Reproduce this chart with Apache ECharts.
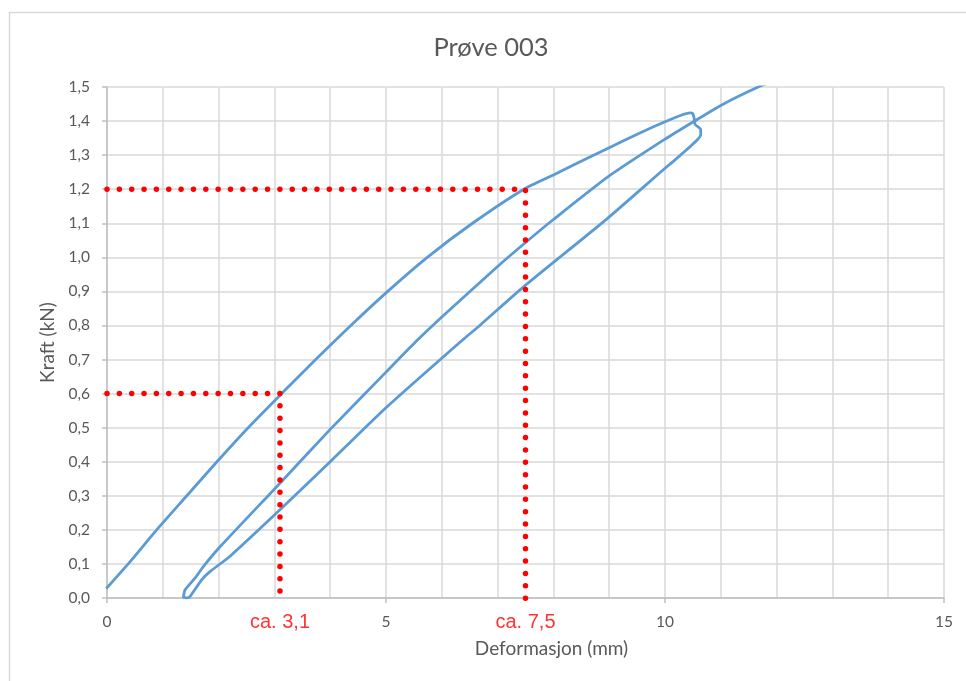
<!DOCTYPE html>
<html>
<head>
<meta charset="utf-8">
<script src="https://cdn.jsdelivr.net/npm/echarts@6/dist/echarts.min.js"></script>
<style>
html,body{margin:0;padding:0;background:#fff;}
#chart{width:966px;height:681px;}
</style>
</head>
<body>
<div id="chart"></div>
<script>
// ---- data ----
const titleText = 'Prøve 003';
const xAxisName = 'Deformasjon (mm)';
const yAxisName = 'Kraft (kN)';

// first loading branch (upper curve)
const loadingPath = [
  [0, 0.03], [0.38, 0.10], [0.89, 0.20], [1.43, 0.30], [1.97, 0.40],
  [2.53, 0.50], [3.13, 0.60], [3.74, 0.70], [4.37, 0.80], [5.03, 0.90], [5.74, 1.00],
  [6.55, 1.10], [7.47, 1.20], [8.00, 1.242], [8.70, 1.298], [9.00, 1.322], [9.55, 1.365],
  [10.00, 1.398], [10.45, 1.424], [10.49, 1.423]
];
// small drop / hook at the peak
const hookPath = [
  [10.52, 1.41], [10.54, 1.39], [10.60, 1.382], [10.64, 1.376], [10.64, 1.36]
];
// unloading branch (lower curve)
const unloadingPath = [
  [10.58, 1.345], [10.45, 1.325], [10.18, 1.286], [9.97, 1.257], [8.96, 1.113],
  [7.49, 0.917], [6.68, 0.80], [6.39, 0.76], [4.99, 0.557], [4.00, 0.40],
  [3.10, 0.259], [2.20, 0.122], [1.85, 0.078], [1.70, 0.054], [1.49, 0.005], [1.43, 0.0]
];
// reloading branch (middle curve)
const reloadingPath = [
  [1.37, 0.003], [1.40, 0.024], [1.58, 0.059], [1.73, 0.093], [2.03, 0.151],
  [3.10, 0.337], [4.00, 0.495], [5.00, 0.663], [5.55, 0.755], [6.00, 0.825],
  [7.00, 0.973], [7.49, 1.042], [8.00, 1.111], [9.00, 1.239], [10.00, 1.347],
  [10.51, 1.398], [11.00, 1.446], [11.70, 1.502], [12.00, 1.52]
];

// red guide lines
const guideX = [3.1, 7.5];
const guideY = [0.6, 1.2];
const guideLabels = ['ca. 3,1', 'ca. 7,5'];

// axes
const xMin = 0, xMax = 15, xStep = 5;
const yMin = 0, yMax = 1.5, yStep = 0.1;

// ---- chart ----
const curve = loadingPath.concat(hookPath, unloadingPath, reloadingPath);
const grey = '#595959';
const FONT = 'Lato, "Noto Sans", sans-serif';

const guideSeries = guideX.map((gx, i) => ({
  type: 'line',
  data: [[xMin, guideY[i]], [gx, guideY[i]], [gx, yMin - 0.012]],
  symbol: 'none',
  clip: false,
  silent: true,
  z: 3,
  lineStyle: { color: '#ff0000', width: 5.5, type: [0, 12.35], cap: 'round', join: 'round' }
}));

const chart = echarts.init(document.getElementById('chart'), null, { renderer: 'canvas' });
chart.setOption({
  animation: false,
  backgroundColor: '#ffffff',
  title: {
    text: titleText,
    left: 486,
    top: 30,
    textAlign: 'center',
    textStyle: { fontFamily: FONT, fontSize: 25.5, fontWeight: 'normal', color: grey }
  },
  graphic: [{
    type: 'rect',
    shape: { x: 9.5, y: 12.5, width: 1000, height: 1000 },
    style: { fill: 'none', stroke: '#d9d9d9', lineWidth: 1.5 },
    silent: true, z: -10
  }],
  grid: { left: 107, right: 22, top: 87, bottom: 83, containLabel: false, outerBoundsMode: 'none' },
  xAxis: {
    type: 'value',
    min: xMin, max: xMax, interval: xStep,
    name: xAxisName,
    nameLocation: 'middle',
    nameGap: 41,
    nameTextStyle: { fontFamily: FONT, fontSize: 19, color: grey, padding: [0, 0, 0, 52] },
    axisLine: { show: true, onZero: false, lineStyle: { color: '#bfbfbf', width: 1.5 } },
    axisTick: { show: true, length: 5, lineStyle: { color: '#bfbfbf', width: 1.5 } },
    minorTick: { show: false, splitNumber: 5 },
    splitLine: { show: true, lineStyle: { color: '#d9d9d9', width: 1.5 } },
    minorSplitLine: { show: true, lineStyle: { color: '#d9d9d9', width: 1.5 } },
    axisLabel: { margin: 16, fontFamily: FONT, fontSize: 15.5, color: grey, formatter: v => String(v) }
  },
  yAxis: {
    type: 'value',
    min: yMin, max: yMax, interval: yStep,
    name: yAxisName,
    nameLocation: 'middle',
    nameRotate: 90,
    nameGap: 48,
    nameTextStyle: { fontFamily: FONT, fontSize: 19, color: grey },
    axisLine: { show: true, onZero: false, lineStyle: { color: '#bfbfbf', width: 1.5 } },
    axisTick: { show: true, length: 5, lineStyle: { color: '#bfbfbf', width: 1.5 } },
    splitLine: { show: true, lineStyle: { color: '#d9d9d9', width: 1.5 } },
    axisLabel: { margin: 17, fontFamily: FONT, fontSize: 15.5, color: grey,
      formatter: v => v.toFixed(1).replace('.', ',') }
  },
  series: [
    {
      type: 'line',
      data: curve,
      symbol: 'none',
      smooth: 0.2,
      clip: true,
      z: 2,
      lineStyle: { color: '#5b9bd5', width: 2.8, join: 'round', cap: 'round' }
    },
    ...guideSeries,
    {
      type: 'scatter',
      data: guideX.map((gx, i) => ({ value: [gx, yMin], name: guideLabels[i] })),
      symbolSize: 0.1,
      itemStyle: { color: 'rgba(0,0,0,0)' },
      clip: false,
      silent: true,
      z: 4,
      label: {
        show: true,
        position: 'bottom',
        distance: 14,
        formatter: p => p.name,
        fontFamily: '"Liberation Sans", Arial, sans-serif',
        fontSize: 20,
        color: '#ff0000'
      }
    }
  ]
});
</script>
</body>
</html>
